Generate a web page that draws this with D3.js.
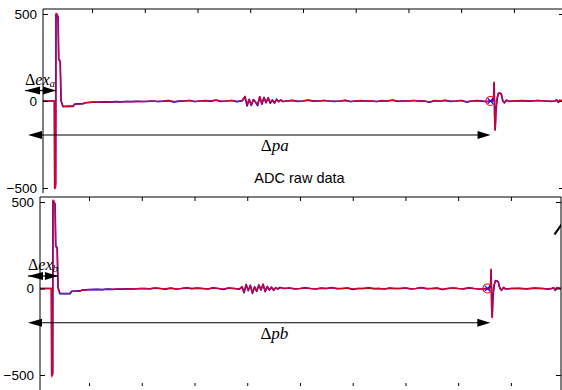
<!DOCTYPE html>
<html>
<head>
<meta charset="utf-8">
<script src="https://cdn.jsdelivr.net/npm/d3@7"></script>
<style>
  body { margin: 0; background: #fff; }
  svg { display: block; }
</style>
</head>
<body>
<div id="chart"></div>
<script>
// sample index shared by both channels
const sampleIdx = [7, 28.6, 29.2, 31.0, 31.6, 33, 35.6, 36.8, 39.6, 41.2, 44.8, 55, 64, 67, 83, 87, 100,
  115, 125, 135, 145, 155, 165, 175, 185, 195, 205, 215, 225, 235, 245, 255, 265, 275, 285, 295,
  305, 315, 325, 335, 345, 355, 365, 375, 385, 390, 394, 398, 402, 406, 410, 414, 418, 422, 426,
  430, 434, 438, 442, 446, 450, 454, 458, 462, 470, 480, 490, 500, 510, 520, 530, 540, 550, 560,
  570, 580, 590, 600, 610, 620, 630, 640, 650, 660, 670, 680, 690, 700, 710, 720, 730, 740, 750,
  760, 770, 780, 790, 800, 810, 820, 830, 840, 848, 854, 859, 861.5, 862.5, 863.5, 864.5, 866,
  868, 870.5, 873, 876, 879, 882, 886, 890, 900, 915, 930, 945, 960, 970, 978, 981, 984, 987, 995];

// channel a
const aRed = [0, 0, -505, -495, 505, 500, 485, 235, 230, 5, -30, -32, -30, -18, -17, -10, -8,
  -6, -5, -6, -4, -5, -3, -4, -2, -3,
  -2, 0, -3, -1, 4, -2, -1, 0, 3, -3,
  0, 2, -1, 5, -2, 0, 3, -4, 2,
  28, -22, 10, -25, 8, -6, -20, 26, -18, 22, -10, 18, -8, 6, -12, 10, -4, 6, -3,
  0, 4, -2, 0, 5, -1, 0, 3, 0, -2, 0, 4, -3, 0, 2, 0, 0, -3, 2, 0,
  5, -2, 0, 0, 3, -1, 0, -5, 2, 0, 4, -2, 0, 3, -3, 0, 2, -1,
  -4, 0, -2, 20, 110, -100, -170, -60,
  15, 40, 48, 42, 2, -12, 5, -2, 0, 2, -1, 3, 0, -2, 0, 8, -6, 4, 0];
const aBlue = [0, 0, -500, -480, 495, 500, 480, 240, 228, 2, -32, -30, -31, -18, -15, -10, -7,
  -6, -5, -7, -4, -5, -3, -4, -2, -3,
  -2, 0, -3, -1, 2, -6, -1, 0, 3, -3,
  0, 2, -1, 5, -2, 0, 3, -4, 2,
  24, -28, 10, -25, 8, -6, -26, 24, -18, 20, -10, 18, -12, 6, -12, 10, -4, 6, -3,
  0, 4, -2, 0, 5, -1, 0, 3, 0, -2, 0, 4, -3, 0, 2, 0, 0, -3, 2, 0,
  5, -2, 0, 0, 3, -1, 0, -7, 2, 0, 4, -2, 0, 3, -6, 0, 2, -1,
  -4, 0, -2, 15, 105, -90, -165, -55,
  10, 44, 46, 40, 0, -10, 5, -2, 0, 2, -1, 3, 0, -2, 0, 6, -8, 4, 0];

// channel b
const bRed = [0, 0, -510, -500, 512, 505, 490, 243, 238, 8, -28, -30, -29, -16, -15, -9, -6,
  -5, -6, -4, -5, -3, -4, -2, -3, -1,
  0, -2, 3, 0, -1, 2, -3, 0, 4, -1,
  2, 0, -3, 4, 0, -2, 3, 0, -4,
  12, -20, 25, -12, 18, -24, 10, -16, 22, -8, 26, -18, 12, -6, 8, -10, 5, -3, 6,
  0, 3, -2, 0, 4, 0, -3, 2, 0, 5, -1, 0, 3, -2, 0, 0, 4, -1, 0, -3,
  2, 0, 0, 3, -2, 0, 5, -1, 0, 2, -4, 0, 3, 0, -2, 4, 0, -3,
  -3, 0, -2, 25, 112, -110, -168, -55,
  20, 42, 46, 40, 3, -10, 6, -3, 0, 1, -2, 2, 0, -4, 1, 6, -8, 5, 0];
const bBlue = [0, 0, -500, -490, 505, 505, 485, 245, 235, 5, -30, -29, -30, -16, -14, -9, -6,
  -5, -6, -4, -5, -3, -4, -2, -3, -1,
  0, -2, 3, 0, -4, 2, -3, 0, 4, -1,
  2, 0, -3, 4, 0, -5, 3, 0, -4,
  10, -24, 22, -12, 18, -28, 10, -16, 20, -8, 24, -18, 12, -9, 8, -10, 5, -3, 6,
  0, 3, -2, 0, 4, 0, -3, 2, 0, 5, -1, 0, 3, -5, 0, 0, 4, -1, 0, -3,
  2, 0, 0, 3, -2, 0, 5, -1, 0, 2, -6, 0, 3, 0, -2, 4, 0, -3,
  -3, 0, -2, 20, 108, -100, -165, -50,
  15, 45, 44, 38, 1, -10, 6, -3, 0, 1, -2, 2, 0, -4, 1, 4, -10, 5, 0];

const yTicks = [-500, 0, 500];
const xTicks = [100, 200, 300, 400, 500, 600, 700, 800, 900];

// detected arrival point (sample, value)
const arrivalA = [855.5, 0];
const arrivalB = [855.5, 0];

// annotations in data units: [fromSample, toSample, value]
const exArrowA = [-27, 31.6, 60];
const paArrowA = [-21.4, 855.7, -195];
const exArrowB = [-15.7, 41, 72];
const pbArrowB = [-15.7, 861, -198];

const W = 562, H = 390;
const svg = d3.select("#chart").append("svg")
  .attr("width", W).attr("height", H)
  .style("font-family", "'Liberation Sans', Arial, sans-serif");

const defs = svg.append("defs");

function panel(opt) {
  const x = d3.scaleLinear().domain([7, 995]).range([opt.left, opt.left + 521]);
  const y = d3.scaleLinear().domain([-500, 500]).range([opt.yMin, opt.yMax]);
  const right = opt.left + 521;

  defs.append("clipPath").attr("id", opt.id)
    .append("rect")
    .attr("x", opt.left).attr("y", opt.top)
    .attr("width", 521).attr("height", opt.bottom - opt.top);

  const g = svg.append("g");

  // signals
  const line = d3.line()
    .x((d, i) => x(sampleIdx[i]))
    .y(d => y(d));
  const plot = g.append("g").attr("clip-path", `url(#${opt.id})`);
  plot.append("path").datum(opt.blue)
    .attr("fill", "none").attr("stroke", "#0000ff").attr("stroke-width", 1.7)
    .attr("stroke-linejoin", "round").attr("d", line);
  plot.append("path").datum(opt.red)
    .attr("fill", "none").attr("stroke", "#ff0000").attr("stroke-width", 1.3)
    .attr("stroke-opacity", 0.85).attr("stroke-linejoin", "round").attr("d", line);

  // arrival marker
  plot.append("circle")
    .attr("cx", x(opt.arrival[0])).attr("cy", y(opt.arrival[1])).attr("r", 4.5)
    .attr("fill", "none").attr("stroke", "#ff0000").attr("stroke-width", 1.2);
  plot.append("path")
    .attr("transform", `translate(${x(opt.arrival[0])},${y(opt.arrival[1])})`)
    .attr("d", "M-2.8,-2.8L2.8,2.8M-2.8,2.8L2.8,-2.8")
    .attr("stroke", "#0000ff").attr("stroke-width", 1.2);

  // frame
  g.append("line").attr("x1", opt.left).attr("x2", opt.left)
    .attr("y1", opt.top).attr("y2", opt.bottom).attr("stroke", "#000");
  g.append("line").attr("x1", opt.left).attr("x2", right)
    .attr("y1", opt.top).attr("y2", opt.top).attr("stroke", "#000");
  g.append("line").attr("x1", right).attr("x2", right)
    .attr("y1", opt.top).attr("y2", opt.bottom).attr("stroke", "#000");

  const yAxis = g.append("g").attr("transform", `translate(${opt.left},0)`)
    .call(d3.axisLeft(y).tickValues(yTicks).tickSize(-5).tickPadding(6)
      .tickFormat(d3.format("d")));
  yAxis.select(".domain").remove();
  yAxis.selectAll("text").attr("font-size", 13.5).attr("font-family", "'Liberation Sans', Arial, sans-serif");

  const yAxisR = g.append("g").attr("transform", `translate(${right},0)`)
    .call(d3.axisRight(y).tickValues(yTicks).tickSize(-5).tickFormat(""));
  yAxisR.select(".domain").remove();

  const xTop = g.append("g").attr("transform", `translate(0,${opt.top})`)
    .call(d3.axisTop(x).tickValues(xTicks).tickSize(-4).tickFormat(""));
  xTop.select(".domain").remove();

  if (opt.bottomTicks) {
    const xBot = g.append("g").attr("transform", `translate(0,${opt.bottomTicks})`)
      .call(d3.axisBottom(x).tickValues(xTicks).tickSize(-3).tickFormat(""));
    xBot.select(".domain").remove();
  }

  // arrows
  function head(tipX, yy, dir, len, hw) {
    g.append("path")
      .attr("d", `M${tipX},${yy}L${tipX - dir * len},${yy - hw}L${tipX - dir * len},${yy + hw}Z`)
      .attr("fill", "#000");
  }
  const ex = opt.exArrow, ey = y(ex[2]);
  head(x(ex[0]), ey, -1, 15, 4);
  head(x(ex[1]), ey, 1, 13, 4);
  g.append("line").attr("x1", x(ex[0])).attr("x2", x(ex[1]))
    .attr("y1", ey).attr("y2", ey).attr("stroke", "#000").attr("stroke-width", 1.2);

  const pa = opt.pArrow, py = y(pa[2]);
  g.append("line").attr("x1", x(pa[0]) + 4).attr("x2", x(pa[1]) - 4)
    .attr("y1", py).attr("y2", py).attr("stroke", "#000").attr("stroke-width", 1.1);
  head(x(pa[0]), py, -1, 14, 4);
  head(x(pa[1]), py, 1, 13, 4);

  // labels
  const exT = g.append("text")
    .attr("x", x(ex[0])).attr("y", ey - 6)
    .attr("font-family", "'Liberation Serif', 'Times New Roman', serif")
    .attr("font-size", 16);
  exT.append("tspan").text("\u0394");
  exT.append("tspan").attr("font-style", "italic").text("ex");
  exT.append("tspan").attr("font-style", "italic").attr("font-size", 11).attr("dy", 2).text(opt.sub);

  const pT = g.append("text")
    .attr("x", x(opt.pLabelAt)).attr("y", py + 16)
    .attr("font-family", "'Liberation Serif', 'Times New Roman', serif")
    .attr("font-size", 17);
  pT.append("tspan").text("\u0394");
  pT.append("tspan").attr("font-style", "italic").text("p" + opt.sub);

  return { g, x, y };
}

panel({
  id: "clipA", left: 43, top: 9, bottom: 193, yMax: 14, yMin: 188,
  red: aRed, blue: aBlue, arrival: arrivalA,
  exArrow: exArrowA, pArrow: paArrowA, sub: "a", pLabelAt: 420
});

panel({
  id: "clipB", left: 40, top: 197, bottom: 391, yMax: 202, yMin: 375,
  red: bRed, blue: bBlue, arrival: arrivalB,
  exArrow: exArrowB, pArrow: pbArrowB, sub: "b", pLabelAt: 425, bottomTicks: 386
});

svg.append("text")
  .attr("x", 299.5).attr("y", 183)
  .attr("text-anchor", "middle")
  .attr("font-size", 14.5)
  .text("ADC raw data");

// small stroke at right edge of lower panel
svg.append("path")
  .attr("d", "M553.5,234L561,223.5L561,227L555.5,235Z")
  .attr("fill", "#000");
</script>
</body>
</html>
